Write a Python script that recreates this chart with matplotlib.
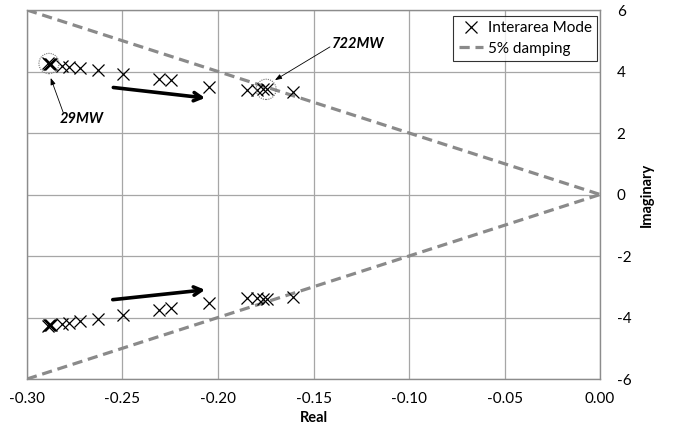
import matplotlib
matplotlib.use("Agg")
import matplotlib.pyplot as plt
from matplotlib.patches import Ellipse

# ---- data ----
real_part = [-0.2890, -0.2886, -0.2882, -0.2872, -0.2818, -0.2781, -0.2720,
             -0.2627, -0.2499, -0.2309, -0.2246, -0.2047, -0.1850, -0.1797,
             -0.1763, -0.1745, -0.1610]
imag_upper = [4.27, 4.26, 4.25, 4.23, 4.19, 4.15, 4.12,
              4.05, 3.92, 3.75, 3.71, 3.51, 3.39, 3.39,
              3.42, 3.42, 3.32]
imag_lower = [-4.27, -4.26, -4.25, -4.23, -4.20, -4.17, -4.12,
              -4.04, -3.93, -3.74, -3.68, -3.53, -3.37, -3.37,
              -3.40, -3.40, -3.32]

damp_x = [-0.30, 0.00]
damp_y_upper = [6.0, 0.0]
damp_y_lower = [-6.0, 0.0]

x_ticks = [-0.30, -0.25, -0.20, -0.15, -0.10, -0.05, 0.00]
x_tick_labels = ["-0.30", "-0.25", "-0.20", "-0.15", "-0.10", "-0.05", "0.00"]
y_ticks = [-6, -4, -2, 0, 2, 4, 6]
y_tick_labels = ["-6", "-4", "-2", "0", "2", "4", "6"]

series_labels = ["Interarea Mode", "5% damping"]
x_label = "Real"
y_label = "Imaginary"

# annotations
label_29 = "29MW"
label_722 = "722MW"
pt_29 = (-0.2885, 4.26)
pt_722 = (-0.1748, 3.42)

plt.rcParams['font.family'] = ['Lato', 'DejaVu Sans']

fig = plt.figure(figsize=(6.73, 4.33), dpi=100)
ax = fig.add_axes([0.0401, 0.1247, 0.8515, 0.8522])

grid_c = "#a6a6a6"
dash_c = "#8a8a8a"

h_damp, = ax.plot(damp_x, damp_y_upper, color=dash_c, lw=2.3, ls=(0, (3.2, 1.8)),
                  label=series_labels[1], zorder=2)
ax.plot(damp_x, damp_y_lower, color=dash_c, lw=2.3, ls=(0, (3.2, 1.8)), zorder=2)

h_mode, = ax.plot(real_part, imag_upper, ls="none", marker="x", ms=8.5, mew=0.9,
                  color="black", label=series_labels[0], zorder=3)
ax.plot(real_part, imag_lower, ls="none", marker="x", ms=8.5, mew=0.9,
        color="black", zorder=3)

ax.set_xlim(-0.30, 0.00)
ax.set_ylim(-6, 6)
ax.set_xticks(x_ticks)
ax.set_xticklabels(x_tick_labels)
ax.set_yticks(y_ticks)
ax.set_yticklabels(y_tick_labels)
ax.yaxis.tick_right()
ax.yaxis.set_label_position("right")
ax.tick_params(axis="both", length=0, labelsize=11, colors="black")
ax.tick_params(axis="x", pad=9)
ax.tick_params(axis="y", pad=12)
ax.grid(True, color=grid_c, lw=0.9)
ax.set_axisbelow(True)
for s in ax.spines.values():
    s.set_color("#8c8c8c")
    s.set_linewidth(1.0)

ax.set_xlabel(x_label, fontsize=10.5, fontweight="bold", labelpad=4)
ax.set_ylabel(y_label, fontsize=10.5, fontweight="bold", labelpad=6)

# dotted circles
for c in (pt_29, pt_722):
    ax.add_patch(Ellipse(c, width=0.0105, height=0.66, fill=False,
                         ec="#777777", lw=0.8, ls=(0, (1, 1)), zorder=4))

# big arrows
ax.annotate("", xy=(-0.2068, 3.14), xytext=(-0.2548, 3.48),
            arrowprops=dict(arrowstyle="->,head_length=0.55,head_width=0.3",
                            lw=2.6, color="black", shrinkA=0, shrinkB=0))
ax.annotate("", xy=(-0.2068, -3.10), xytext=(-0.2551, -3.42),
            arrowprops=dict(arrowstyle="->,head_length=0.55,head_width=0.3",
                            lw=2.6, color="black", shrinkA=0, shrinkB=0))

# labels with thin arrows
ax.annotate("", xy=(-0.2876, 3.79), xytext=(-0.2810, 2.66),
            arrowprops=dict(arrowstyle="-|>,head_length=0.4,head_width=0.15",
                            lw=0.6, color="black", shrinkA=0, shrinkB=0))
ax.text(-0.2714, 2.45, label_29, fontsize=10.5, fontweight="bold",
        fontstyle="italic", ha="center", va="center")
ax.annotate("", xy=(-0.1702, 3.72), xytext=(-0.1414, 4.80),
            arrowprops=dict(arrowstyle="-|>,head_length=0.4,head_width=0.15",
                            lw=0.6, color="black", shrinkA=0, shrinkB=0))
ax.text(-0.1265, 4.91, label_722, fontsize=10.5, fontweight="bold",
        fontstyle="italic", ha="center", va="center")

leg = ax.legend(handles=[h_mode, h_damp], loc="upper right",
                bbox_to_anchor=(0.995, 0.985), fontsize=11,
                frameon=True, fancybox=False, handlelength=1.6,
                handletextpad=0.3, borderpad=0.35, labelspacing=0.45,
                borderaxespad=0)
leg.get_frame().set_edgecolor("black")
leg.get_frame().set_linewidth(0.8)

fig.savefig("out.png", dpi=100)
